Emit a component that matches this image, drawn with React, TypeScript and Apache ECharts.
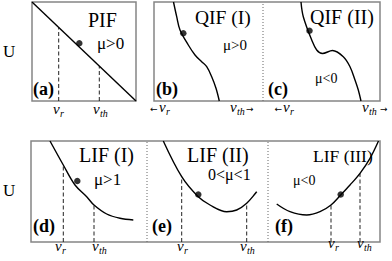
import React, { useEffect, useRef } from "react";
import * as echarts from "echarts";

// ---------- data (panel-local units: v to the right, U upward) ----------
const panelTags = ["(a)", "(b)", "(c)", "(d)", "(e)", "(f)"];
const modelNames = ["PIF", "QIF (I)", "QIF (II)", "LIF (I)", "LIF (II)", "LIF (III)"];
const muConditions = ["μ>0", "μ>0", "μ<0", "μ>1", "0<μ<1", "μ<0"];
const axisName = "U";
const arrows = ["←", "→"];

// frame a (PIF)
const pifCurve = [[0, 99], [104, 0]];
const pifMarkers = [[26.7, 73.6], [67.3, 35]]; // v_r, v_th : [v, U on curve]
const pifDot = [[47.3, 57.7]];

// frame b|c (QIF)
const qif1Curve = [[19.5, 99], [22.7, 84.3], [26, 71], [34.3, 56], [41, 46], [47.7, 39.3], [52.7, 34.3], [57.7, 24.3], [62, 12.7], [65.3, 0]];
const qif2Curve = [[147, 99], [149.3, 84.3], [157.7, 61], [162.7, 51], [168.5, 47.5], [178.5, 50.5], [189.3, 44.3], [196, 34.3], [201, 21], [204.3, 11], [207, 0]];
const qifDots = [[29.3, 67.7], [155.5, 70.3]];
const qifSeparator = [109];

// frame d|e|f (LIF)
const lif1Curve = [[19, 101], [32.3, 77], [44, 57], [55.7, 45.3], [63, 37], [75.7, 28], [89, 23.7], [102.3, 22]];
const lif2Curve = [[132.3, 101], [150.7, 65.3], [167, 45.5], [179, 37], [195.7, 30.3], [205.7, 32], [215.7, 38.7], [225.7, 50.3]];
const lif3Curve = [[245.7, 38], [259, 30.3], [275.7, 27], [289, 30.3], [300, 37], [309.7, 47], [319, 57], [329, 68.7], [339, 83.7], [347.5, 101]];
const lifMarkers = [[32.3, 77], [63, 37], [150.7, 65.3], [215.7, 38.7], [300, 37], [329, 68.7]];
const lifDots = [[46.3, 61], [167.3, 47.5], [309.7, 47.5]];
const lifSeparators = [116, 237];

// ---------- layout & style ----------
const SERIF = '"Liberation Serif", "Times New Roman", "DejaVu Serif", serif';
const FRAME = "#858585";
const frames = [
  { left: 32, top: 2, width: 104, height: 99 },
  { left: 154, top: 2, width: 226, height: 99 },
  { left: 31, top: 141, width: 349, height: 101 },
];

function txt(text: string, x: number, y: number, size: number, extra: any = {}) {
  return {
    type: "text",
    x,
    y,
    silent: true,
    style: {
      text,
      fontFamily: SERIF,
      fontSize: size,
      fill: "#000",
      align: "left",
      verticalAlign: "middle",
      ...extra,
    },
  };
}

function vLabel(x: number, y: number, sub: string) {
  return [
    txt("v", x, y, 15, { fontStyle: "italic" }),
    txt(sub, x + 7, y + 4.8, 10, { fontStyle: "italic" }),
  ];
}

function arrow(i: number, x: number, y: number) {
  return txt(arrows[i], x, y, 9, { fontFamily: '"DejaVu Sans", sans-serif' });
}

function buildOption() {
  const series: any[] = [];
  const curve = (data: number[][], g: number) =>
    series.push({
      type: "line",
      xAxisIndex: g,
      yAxisIndex: g,
      data,
      smooth: 0.35,
      showSymbol: false,
      silent: true,
      clip: true,
      lineStyle: { color: "#000", width: 1.4 },
      z: 3,
    });
  const dashed = (m: number[], g: number) =>
    series.push({
      type: "line",
      xAxisIndex: g,
      yAxisIndex: g,
      data: [[m[0], 0], [m[0], m[1]]],
      showSymbol: false,
      silent: true,
      lineStyle: { color: "#222", width: 1, type: [4, 2.5] },
      z: 2,
    });
  const dots = (d: number[][], g: number) =>
    series.push({
      type: "scatter",
      xAxisIndex: g,
      yAxisIndex: g,
      data: d,
      symbolSize: 6.5,
      silent: true,
      itemStyle: { color: "#000" },
      z: 4,
    });
  const sep = (x: number, g: number, h: number) =>
    series.push({
      type: "line",
      xAxisIndex: g,
      yAxisIndex: g,
      data: [[x, 0], [x, h]],
      showSymbol: false,
      silent: true,
      lineStyle: { color: "#666", width: 1, type: [1, 2] },
      z: 1,
    });

  curve(pifCurve, 0);
  pifMarkers.forEach((m) => dashed(m, 0));
  dots(pifDot, 0);

  curve(qif1Curve, 1);
  curve(qif2Curve, 1);
  dots(qifDots, 1);
  qifSeparator.forEach((x) => sep(x, 1, frames[1].height));

  curve(lif1Curve, 2);
  curve(lif2Curve, 2);
  curve(lif3Curve, 2);
  lifMarkers.forEach((m) => dashed(m, 2));
  dots(lifDots, 2);
  lifSeparators.forEach((x) => sep(x, 2, frames[2].height));

  const bold = { fontWeight: "bold" };
  const graphic: any[] = [
    txt(axisName, 3, 51, 17),
    txt(axisName, 3, 190, 17),
    // model names
    txt(modelNames[0], 88, 20, 20),
    txt(modelNames[1], 195, 17.2, 19.5),
    txt(modelNames[2], 310, 17, 20),
    txt(modelNames[3], 79, 155, 20),
    txt(modelNames[4], 187, 155, 20),
    txt(modelNames[5], 313, 155.9, 17.5),
    // mu conditions
    txt(muConditions[0], 97, 43.3, 17),
    txt(muConditions[1], 223, 44.8, 15),
    txt(muConditions[2], 315, 78.1, 14),
    txt(muConditions[3], 94, 179, 17),
    txt(muConditions[4], 208, 174.4, 16),
    txt(muConditions[5], 293, 180, 14),
    // panel tags
    txt(panelTags[0], 33, 88.7, 18, bold),
    txt(panelTags[1], 156, 88.7, 18, bold),
    txt(panelTags[2], 268, 88.7, 18, bold),
    txt(panelTags[3], 33, 225.7, 18, bold),
    txt(panelTags[4], 152, 225.7, 18, bold),
    txt(panelTags[5], 275, 225.7, 18, bold),
    // v labels
    ...vLabel(53, 108.8, "r"),
    ...vLabel(93, 108.8, "th"),
    arrow(0, 150, 108.5),
    ...vLabel(159, 106.8, "r"),
    ...vLabel(230, 106.8, "th"),
    arrow(1, 246, 108.5),
    arrow(0, 274.5, 108.5),
    ...vLabel(283, 106.8, "r"),
    ...vLabel(362, 106.8, "th"),
    arrow(1, 380, 108.5),
    ...vLabel(55, 245.8, "r"),
    ...vLabel(92, 245.8, "th"),
    ...vLabel(177, 245.8, "r"),
    ...vLabel(240, 245.8, "th"),
    ...vLabel(328, 242.8, "r"),
    ...vLabel(357, 242.8, "th"),
  ];

  return {
    animation: false,
    backgroundColor: "#fff",
    grid: frames.map((f) => ({
      ...f,
      show: true,
      borderColor: FRAME,
      borderWidth: 1.5,
      backgroundColor: "transparent",
    })),
    xAxis: frames.map((f, i) => ({ type: "value", gridIndex: i, min: 0, max: f.width, show: false })),
    yAxis: frames.map((f, i) => ({ type: "value", gridIndex: i, min: 0, max: f.height, show: false })),
    series,
    graphic,
  };
}

export default function App() {
  const ref = useRef<HTMLDivElement>(null);
  useEffect(() => {
    if (!ref.current) return;
    const chart = echarts.init(ref.current, undefined, { renderer: "svg" });
    chart.setOption(buildOption() as any);
    return () => chart.dispose();
  }, []);
  return (
    <div
      ref={ref}
      style={{ position: "absolute", left: 0, top: 0, width: 392, height: 261, background: "#fff" }}
    />
  );
}
